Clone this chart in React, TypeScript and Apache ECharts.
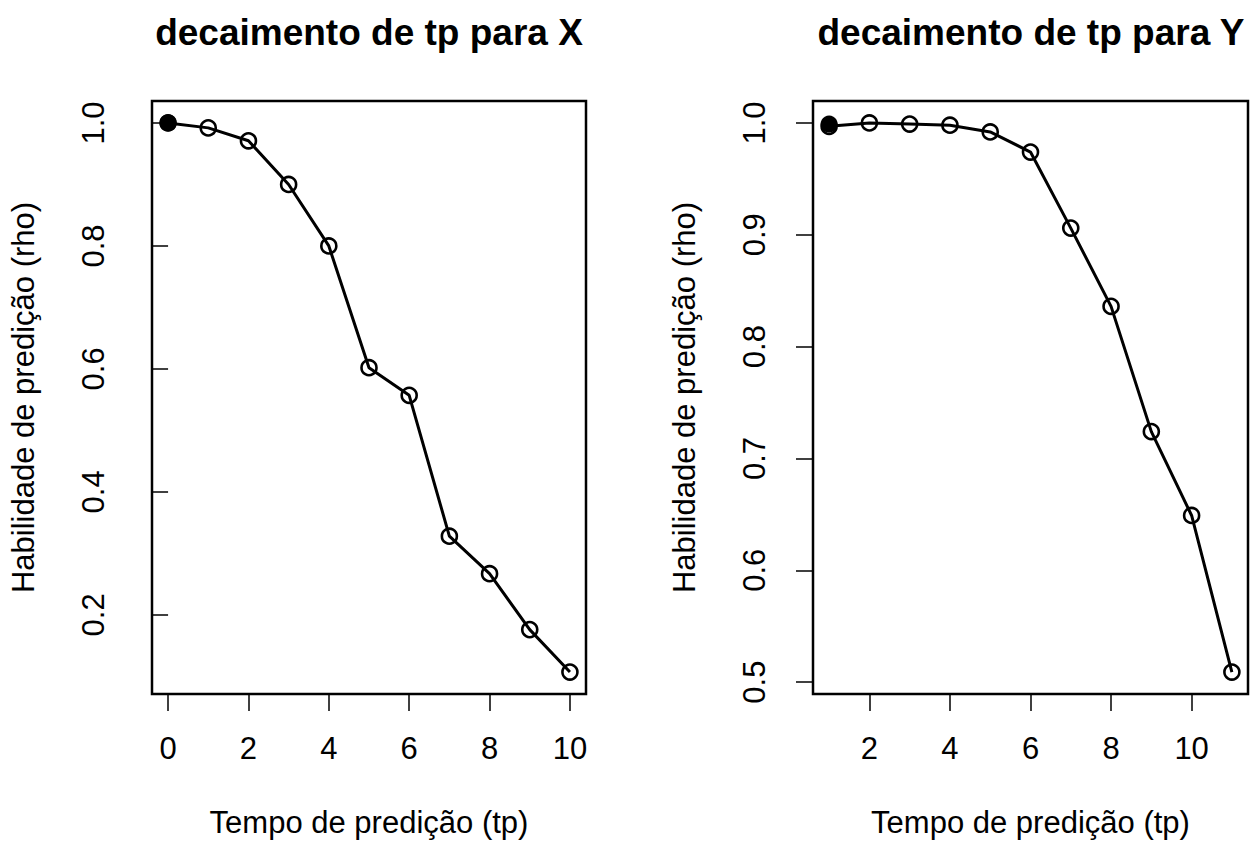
import React, { useEffect, useRef } from "react";
import * as echarts from "echarts";

// Forecast skill (rho) against prediction horizon tp, one panel per variable
const tpX = [0, 1, 2, 3, 4, 5, 6, 7, 8, 9, 10];
const rhoX = [1.0, 0.992, 0.971, 0.9, 0.8, 0.602, 0.557, 0.328, 0.267, 0.176, 0.107];
const bestTpX = [0];
const bestRhoX = [1.0];

const tpY = [1, 2, 3, 4, 5, 6, 7, 8, 9, 10, 11];
const rhoY = [0.997, 1.0, 0.999, 0.998, 0.992, 0.974, 0.906, 0.836, 0.724, 0.649, 0.509];
const bestTpY = [1];
const bestRhoY = [0.999];

const xTicksX = [0, 2, 4, 6, 8, 10];
const yTicksX = [0.2, 0.4, 0.6, 0.8, 1.0];
const xTicksY = [2, 4, 6, 8, 10];
const yTicksY = [0.5, 0.6, 0.7, 0.8, 0.9, 1.0];

const titleX = "decaimento de tp para X";
const titleY = "decaimento de tp para Y";
const xName = "Tempo de predição (tp)";
const yName = "Habilidade de predição (rho)";

const FONT = "'Liberation Sans', Arial, Helvetica, sans-serif";

// R-style axis range: data range widened by 4% on each side
function padRange(values: number[]): [number, number] {
  const lo = Math.min(...values);
  const hi = Math.max(...values);
  const d = (hi - lo) * 0.04;
  return [lo - d, hi + d];
}

const zip = (xs: number[], ys: number[]) => xs.map((x, i) => [x, ys[i]]);

function makeAxes(
  idx: number,
  xs: number[],
  ys: number[],
  xTicks: number[],
  yTicks: number[]
) {
  const [xMin, xMax] = padRange(xs);
  const [yMin, yMax] = padRange(ys);
  const x = {
    type: "value",
    gridIndex: idx,
    min: xMin,
    max: xMax,
    axisLine: { show: false },
    axisTick: {
      show: true,
      inside: false,
      length: 17,
      customValues: xTicks,
      lineStyle: { color: "#000", width: 1.5 },
    },
    axisLabel: {
      customValues: xTicks,
      margin: 39,
      color: "#000",
      fontSize: 31,
      fontFamily: FONT,
    },
    splitLine: { show: false },
    name: xName,
    nameLocation: "middle",
    nameGap: 113,
    nameTextStyle: { color: "#000", fontSize: 31, fontFamily: FONT },
  };
  const y = {
    type: "value",
    gridIndex: idx,
    min: yMin,
    max: yMax,
    axisLine: { show: false },
    axisTick: {
      show: true,
      inside: false,
      length: 17,
      customValues: yTicks,
      lineStyle: { color: "#000", width: 1.5 },
    },
    axisLabel: {
      customValues: yTicks,
      rotate: 90,
      margin: 43,
      color: "#000",
      fontSize: 31,
      fontFamily: FONT,
      formatter: (v: number) => v.toFixed(1),
    },
    splitLine: { show: false },
    name: yName,
    nameLocation: "middle",
    nameGap: 113,
    nameTextStyle: { color: "#000", fontSize: 31, fontFamily: FONT },
  };
  return { x, y };
}

function makeSeries(idx: number, xs: number[], ys: number[], bx: number[], by: number[]) {
  return [
    {
      type: "line",
      xAxisIndex: idx,
      yAxisIndex: idx,
      data: zip(xs, ys),
      symbol: "circle",
      symbolSize: 15,
      showSymbol: true,
      lineStyle: { color: "#000", width: 3 },
      itemStyle: { color: "rgba(0,0,0,0)", borderColor: "#000", borderWidth: 2.6 },
      z: 2,
    },
    {
      type: "scatter",
      xAxisIndex: idx,
      yAxisIndex: idx,
      data: zip(bx, by),
      symbol: "circle",
      symbolSize: 17,
      itemStyle: { color: "#000", opacity: 1 },
      z: 3,
    },
  ];
}

export default function App() {
  const ref = useRef<HTMLDivElement>(null);

  useEffect(() => {
    if (!ref.current) return;
    const chart = echarts.init(ref.current, undefined, { renderer: "svg" });

    const a0 = makeAxes(0, tpX, [...rhoX, ...bestRhoX], xTicksX, yTicksX);
    const a1 = makeAxes(1, tpY, [...rhoY, ...bestRhoY], xTicksY, yTicksY);

    const titleStyle = { color: "#000", fontSize: 37, fontWeight: "bold", fontFamily: FONT };

    chart.setOption({
      animation: false,
      backgroundColor: "#fff",
      title: [
        { text: titleX, left: 364, top: 9, textAlign: "center", textStyle: titleStyle },
        { text: titleY, left: 1026, top: 9, textAlign: "center", textStyle: titleStyle },
      ],
      grid: [
        {
          left: 152,
          top: 101,
          width: 434,
          height: 595,
          show: true,
          borderColor: "#000",
          borderWidth: 2.5,
          backgroundColor: "transparent",
        },
        {
          left: 813,
          top: 101,
          width: 435,
          height: 595,
          show: true,
          borderColor: "#000",
          borderWidth: 2.5,
          backgroundColor: "transparent",
        },
      ],
      xAxis: [a0.x, a1.x],
      yAxis: [a0.y, a1.y],
      series: [
        ...makeSeries(0, tpX, rhoX, bestTpX, bestRhoX),
        ...makeSeries(1, tpY, rhoY, bestTpY, bestRhoY),
      ],
    });

    return () => chart.dispose();
  }, []);

  return (
    <div
      ref={ref}
      style={{ position: "absolute", left: 0, top: 0, width: 1254, height: 843 }}
    />
  );
}
